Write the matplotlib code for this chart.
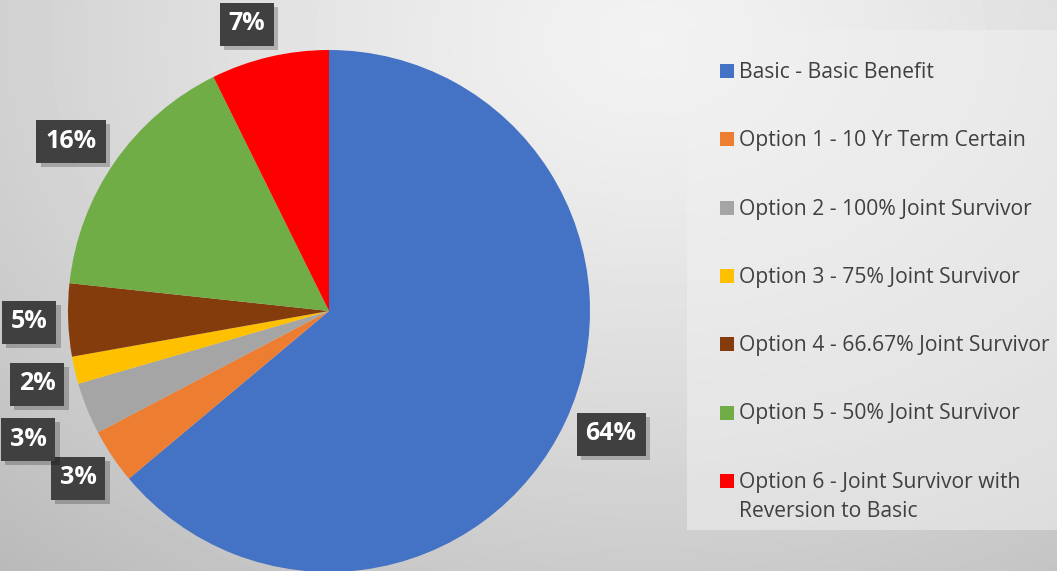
import numpy as np
import matplotlib.pyplot as plt
from matplotlib.patches import Rectangle
from matplotlib import patheffects as pe

labels = ['Basic - Basic Benefit',
          'Option 1 - 10 Yr Term Certain',
          'Option 2 - 100% Joint Survivor',
          'Option 3 - 75% Joint Survivor',
          'Option 4 - 66.67% Joint Survivor',
          'Option 5 - 50% Joint Survivor',
          'Option 6 - Joint Survivor with\nReversion to Basic']
shares = [63.9, 3.4, 3.2, 1.7, 4.5, 16.0, 7.3]
pct_text = ['64%', '3%', '3%', '2%', '5%', '16%', '7%']
colors = ['#4472C4', '#ED7D31', '#A5A5A5', '#FFC000', '#843C0C', '#70AD47', '#FF0000']

# label box centres (pixels, from the top)
label_pos = [(611, 434), (78, 478), (28, 439), (37, 384), (29, 322), (71, 141), (247, 24)]

W, H = 1057, 571
fig = plt.figure(figsize=(W / 100, H / 100), dpi=100)
ax = fig.add_axes([0, 0, 1, 1])

# soft radial gray background
yy, xx = np.mgrid[0:H, 0:W]
d = np.hypot((xx - 650) / 900.0, (yy - 40) / 650.0)
bg = 0.95 - 0.20 * np.clip(d, 0, 1.2) ** 1.3
ax.imshow(bg, cmap='gray', vmin=0, vmax=1, extent=(0, W, 0, H), zorder=0, aspect='auto')

ax.pie(shares, colors=colors, startangle=90, counterclock=False,
       center=(329, H - 311), radius=261, frame=True,
       wedgeprops=dict(linewidth=0, zorder=2))
ax.set_xlim(0, W)
ax.set_ylim(0, H)
ax.set_aspect('equal')
ax.axis('off')

for txt, (x, y) in zip(pct_text, label_pos):
    t = ax.text(x, H - y, txt, ha='center', va='center', fontsize=18,
                fontweight='bold', color='white', family='Open Sans', zorder=5,
                bbox=dict(boxstyle='square,pad=0.36', fc='#404040', ec='none'))
    t.get_bbox_patch().set_path_effects([
        pe.SimplePatchShadow(offset=(3, -3), shadow_rgbFace='black', alpha=0.22),
        pe.Normal()])

# legend panel
ax.add_patch(Rectangle((687, H - 530), W - 687, 500, fc='#f0f0f0', ec='none',
                       alpha=0.55, zorder=1))
for i, (lab, c) in enumerate(zip(labels, colors)):
    yc = 71 + i * 68.3
    ax.add_patch(Rectangle((720, H - yc - 7), 14, 14, fc=c, ec='none', zorder=3))
    for k, line in enumerate(lab.split('\n')):
        ax.text(739, H - yc - 7 - k * 29, line, ha='left', va='baseline', fontsize=15.2,
                color='#404040', family='Open Sans', zorder=3)

fig.savefig('out.png', dpi=100)
